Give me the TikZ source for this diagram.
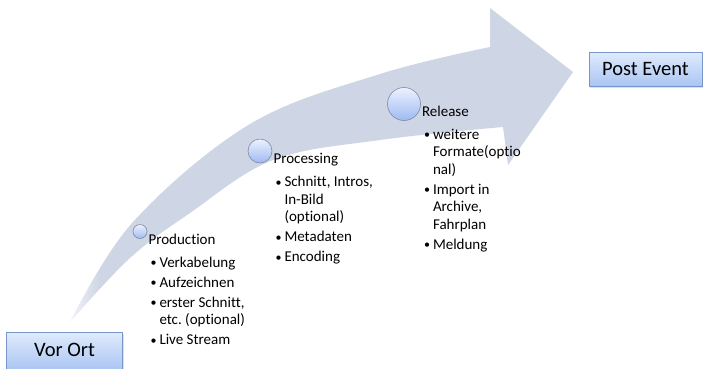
\documentclass[tikz,border=0pt]{standalone}
\usepackage{fontspec}
\setmainfont{Carlito}[Ligatures=NoCommon]
\usepackage{xcolor}
\usetikzlibrary{positioning,shadows}
\frenchspacing

\definecolor{bandcol}{RGB}{206,213,228}
\definecolor{dottop}{RGB}{236,241,255}
\definecolor{dotbot}{RGB}{158,186,242}
\definecolor{dotedge}{RGB}{128,138,160}
\definecolor{boxtop}{RGB}{224,235,253}
\definecolor{boxbot}{RGB}{170,197,243}
\definecolor{boxedge}{RGB}{120,150,200}

\pgfdeclarehorizontalshading{bandfade}{100bp}{color(0bp)=(bandcol!30); color(25bp)=(bandcol!30); color(28bp)=(bandcol); color(100bp)=(bandcol)}

\newcommand{\steplist}[1]{\begin{tabular}[t]{@{\hspace{1pt}}p{9pt}@{}l@{}}#1\end{tabular}}
\newcommand{\bul}{\raisebox{.5pt}{\scalebox{.8}{\textbullet}}}

\begin{document}
\begin{tikzpicture}[
    x=1pt, y=-1pt,
    dot/.style={circle, draw=dotedge, line width=0.6pt, top color=dottop, bottom color=dotbot, inner sep=0pt},
    phase/.style={inner sep=0pt, anchor=base west, font=\fontsize{15}{17.5}\selectfont},
    items/.style={inner sep=0pt, anchor=base west, font=\fontsize{15}{17.5}\selectfont},
    endbox/.style={rectangle, draw=boxedge, top color=boxtop, bottom color=boxbot, text height=14pt, inner xsep=13pt,
        font=\fontsize{20.5}{24}\selectfont, drop shadow={shadow xshift=1pt, shadow yshift=-1.5pt, opacity=.25}}
]
    \useasboundingbox (0,0) rectangle (703,368);
    \clip (0,0) rectangle (703,368);

    % the big curved arrow
    \shade[shading=bandfade]
        plot[smooth, tension=.6] coordinates {(70,322) (133,222) (250,124) (380,74) (490,47)}
        -- (490,8) -- (573,72) -- (508,165)
        -- plot[smooth, tension=.6] coordinates {(503,127) (380,140) (273,160) (190,213) (130,258) (70,322)}
        -- cycle;

    \node[dot, minimum size=14pt] (prod) at (140,231.5) {};
    \node[dot, minimum size=24pt] (proc) at (260,151) {};
    \node[dot, minimum size=33pt] (rel) at (404,104) {};

    \node[phase, xshift=1pt, yshift=-12.5pt] (prodname) at (prod.east) {Production};
    \node[phase, xshift=1pt, yshift=-12.5pt] (procname) at (proc.east) {Processing};
    \node[phase, xshift=1pt, yshift=-12pt] (relname) at (rel.east) {Release};

    \node[items, xshift=1pt, yshift=-23pt] (prodlist) at (prodname.base west) {\steplist{%
        \bul & Verkabelung\\[2.5pt]
        \bul & Aufzeichnen\\[2.5pt]
        \bul & erster Schnitt,\\ & etc. (optional)\\[2.5pt]
        \bul & Live Stream}};
    \node[items, xshift=1pt, yshift=-23pt] (proclist) at (procname.base west) {\steplist{%
        \bul & Schnitt, Intros,\\ & In-Bild\\ & (optional)\\[2.5pt]
        \bul & Metadaten\\[2.5pt]
        \bul & Encoding}};
    \node[items, xshift=1pt, yshift=-23pt] (rellist) at (relname.base west) {\steplist{%
        \bul & weitere\\ & Formate(optio\\ & nal)\\[2.5pt]
        \bul & Import in\\ & Archive,\\ & Fahrplan\\[2.5pt]
        \bul & Meldung}};

    \node[endbox, minimum width=116pt, inner ysep=10pt, text depth=4pt, anchor=base] (vorort) at (64.5,356) {Vor Ort};
    \node[endbox, inner ysep=9pt, text depth=2pt, anchor=base west] (post) at (589,75) {Post Event};
\end{tikzpicture}
\end{document}
